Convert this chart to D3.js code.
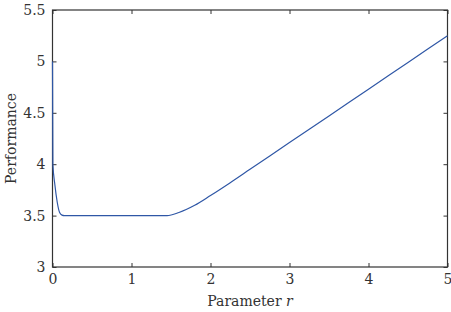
<!DOCTYPE html>
<html>
<head>
<meta charset="utf-8">
<script src="https://cdn.jsdelivr.net/npm/d3@7"></script>
<style>
  body { margin: 0; background: #fff; }
  svg { display: block; }
</style>
</head>
<body>
<svg id="chart" width="451" height="312"></svg>
<script>
// values
const paramR = [0, 0.005, 0.03, 0.06, 0.09, 0.12, 0.15, 1.45, 1.6, 1.8, 2.0, 2.25, 2.5, 3.0, 3.5, 4.0, 4.5, 5.0];
const perf   = [5.0, 4.0, 3.8, 3.63, 3.53, 3.505, 3.5, 3.5, 3.53, 3.6, 3.695, 3.82, 3.95, 4.21, 4.47, 4.73, 4.99, 5.25];
const xTicks = [0, 1, 2, 3, 4, 5];
const yTicks = [3, 3.5, 4, 4.5, 5, 5.5];

const serif = "DejaVu Serif";

const svg = d3.select("#chart");
const margin = { top: 10, right: 3.5, bottom: 45, left: 52.5 };
const W = 451, H = 312;

const x = d3.scaleLinear().domain([0, 5]).range([margin.left, W - margin.right]);
const y = d3.scaleLinear().domain([3, 5.5]).range([H - margin.bottom, margin.top]);

const axisColor = "#333";

// frame
svg.append("rect")
  .attr("x", x(0)).attr("y", y(5.5))
  .attr("width", x(5) - x(0)).attr("height", y(3) - y(5.5))
  .attr("fill", "none").attr("stroke", axisColor).attr("stroke-width", 1.2);

// ticks, pointing inward on all four sides
const styleAxis = g => {
  g.attr("font-family", serif).attr("font-size", 14);
  g.select(".domain").remove();
  g.selectAll(".tick line").attr("stroke", axisColor);
  g.selectAll(".tick text").attr("fill", "#333");
};

svg.append("g")
  .attr("transform", `translate(0,${y(3)})`)
  .call(d3.axisBottom(x).tickValues(xTicks).tickSizeInner(-4).tickPadding(7).tickFormat(d3.format("d")))
  .call(styleAxis);

svg.append("g")
  .attr("transform", `translate(${x(0)},0)`)
  .call(d3.axisLeft(y).tickValues(yTicks).tickSizeInner(-4).tickPadding(7).tickFormat(d => d))
  .call(styleAxis);

svg.append("g")
  .attr("transform", `translate(0,${y(5.5)})`)
  .call(d3.axisTop(x).tickValues(xTicks).tickSizeInner(-4).tickFormat(""))
  .call(styleAxis);

svg.append("g")
  .attr("transform", `translate(${x(5)},0)`)
  .call(d3.axisRight(y).tickValues(yTicks).tickSizeInner(-4).tickFormat(""))
  .call(styleAxis);

// the curve
const pts = paramR.map((r, i) => [r, perf[i]]);
svg.append("path")
  .datum(pts)
  .attr("fill", "none")
  .attr("stroke", "#2f57a6")
  .attr("stroke-width", 1.2)
  .attr("d", d3.line().x(d => x(d[0])).y(d => y(d[1])).curve(d3.curveMonotoneX));

// axis labels
const xl = svg.append("text")
  .attr("x", (x(0) + x(5)) / 2)
  .attr("y", 306)
  .attr("text-anchor", "middle")
  .attr("fill", "#333")
  .attr("font-family", serif)
  .attr("font-size", 14);
xl.append("tspan").text("Parameter ");
xl.append("tspan").attr("font-style", "italic").text("r");

svg.append("text")
  .attr("transform", `translate(16,${(y(3) + y(5.5)) / 2}) rotate(-90)`)
  .attr("text-anchor", "middle")
  .attr("fill", "#333")
  .attr("font-family", serif)
  .attr("font-size", 14)
  .text("Performance");
</script>
</body>
</html>
